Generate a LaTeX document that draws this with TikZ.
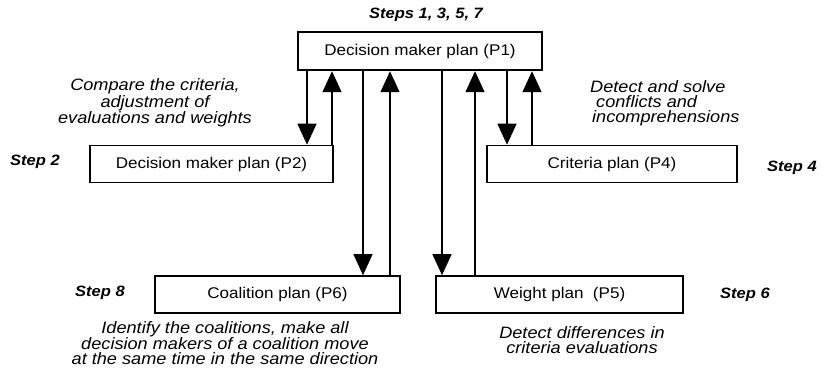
\documentclass[tikz,border=0pt]{standalone}
\usepackage{fontspec}
\setmainfont{Liberation Sans}[FakeStretch=1.1]
\usetikzlibrary{arrows.meta}
\tikzset{
  planbox/.style={draw, line width=1.6pt, minimum height=37pt, inner sep=0pt, font=\fontsize{15.5}{15}\selectfont},
  note/.style={font=\fontsize{16.5}{15}\selectfont\itshape, inner sep=0pt},
  steplbl/.style={font=\fontsize{15}{15}\selectfont\bfseries\itshape, inner sep=0pt},
  conn/.style={line width=1.3pt, -{Triangle[width=19pt,length=21pt]}}
}
\begin{document}
\begin{tikzpicture}[x=1pt,y=-1pt]
\useasboundingbox (0,0) rectangle (823,376);
% boxes
\node[planbox, line width=2.4pt, minimum width=244pt, minimum height=38pt] (P1) at (420,51) {Decision maker plan (P1)};
\node[planbox, minimum width=243pt] (P2) at (211.5,164) {Decision maker plan (P2)};
\node[planbox, minimum width=250pt] (P4) at (612,164) {Criteria plan (P4)};
\node[planbox, minimum width=245pt] (P6) at (277.5,294.5) {Coalition plan (P6)};
\node[planbox, minimum width=247pt] (P5) at (559.5,294.5) {Weight plan~ (P5)};
% connector x positions
\coordinate (a1) at (307,0);
\coordinate (a2) at (332,0);
\coordinate (b1) at (363,0);
\coordinate (b2) at (390,0);
\coordinate (c1) at (442,0);
\coordinate (c2) at (475,0);
\coordinate (d1) at (507,0);
\coordinate (d2) at (532,0);
% connectors
\draw[conn] (a1 |- P1.south) -- (a1 |- P2.north);
\draw[conn] (a2 |- P2.north) -- (a2 |- P1.south);
\draw[conn] (b1 |- P1.south) -- (b1 |- P6.north);
\draw[conn] (b2 |- P6.north) -- (b2 |- P1.south);
\draw[conn] (c1 |- P1.south) -- (c1 |- P5.north);
\draw[conn] (c2 |- P5.north) -- (c2 |- P1.south);
\draw[conn] (d1 |- P1.south) -- (d1 |- P4.north);
\draw[conn] (d2 |- P4.north) -- (d2 |- P1.south);
% labels
\node[steplbl] (s1) at (426,15) {Steps 1, 3, 5, 7};
\node[steplbl, anchor=west] (s2) at (10,162) {Step 2};
\node[steplbl, anchor=west] (s4) at (767,168) {Step 4};
\node[steplbl, anchor=west] (s8) at (75,293) {Step 8};
\node[steplbl, anchor=west] (s6) at (720,295) {Step 6};
\node[note, align=center] (n2) at (155,103) {Compare the criteria,\\adjustment of\hspace{20pt}\\evaluations and weights};
\node[note, align=left, anchor=west] (n4) at (590,103) {Detect and solve\\\hspace{6pt}conflicts and\\\hspace{2pt}incomprehensions};
\node[note, align=center] (n6) at (225,343) {Identify the coalitions, make all\\decision makers of a coalition move\\at the same time in the same direction};
\node[note, align=center] (n5) at (582,340) {Detect differences in\\criteria evaluations};
\end{tikzpicture}
\end{document}
